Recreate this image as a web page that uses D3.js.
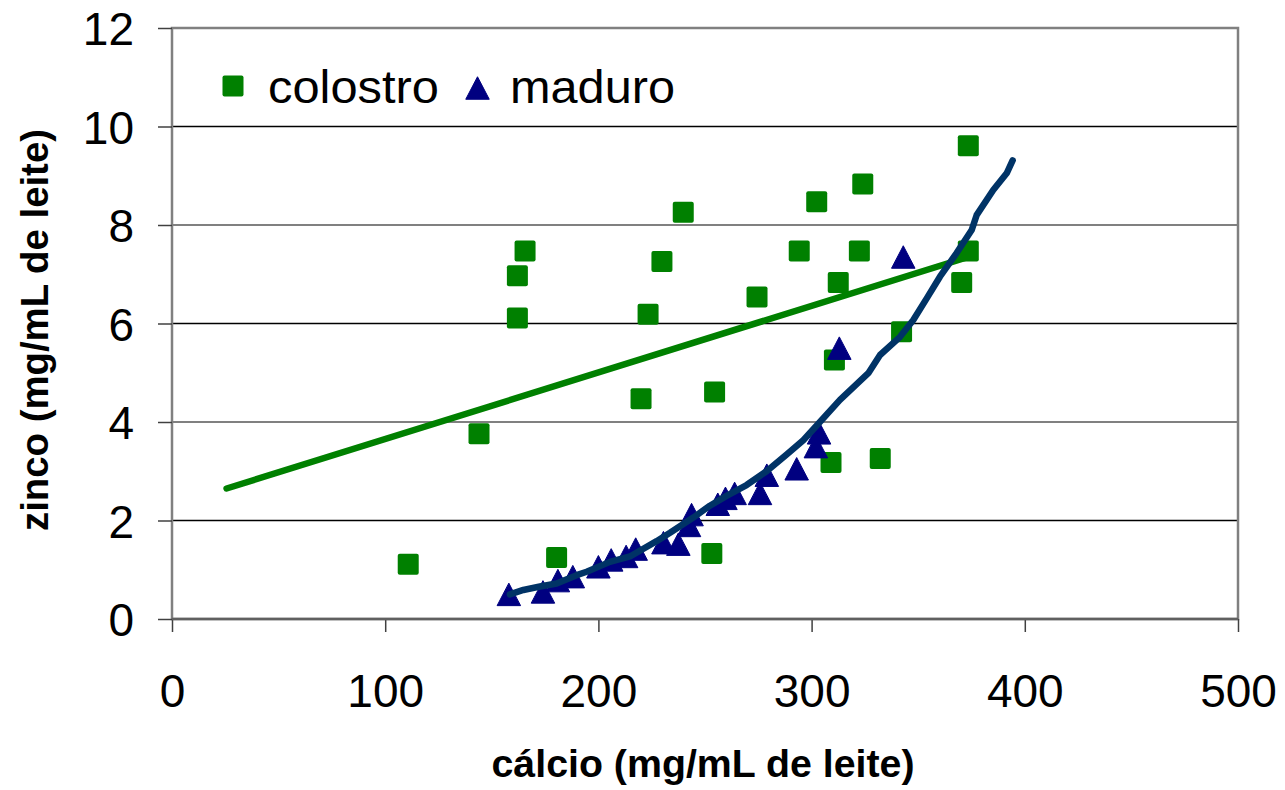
<!DOCTYPE html>
<html>
<head>
<meta charset="utf-8">
<script src="https://cdn.jsdelivr.net/npm/d3@7"></script>
<style>
  html, body { margin: 0; padding: 0; background: #fff; }
  svg { display: block; font-family: Arial, "Liberation Sans", sans-serif; }
</style>
</head>
<body>
<svg id="chart" width="1285" height="790"></svg>
<script>
// ---- data ----
const seriesNames = ["colostro", "maduro"];
const colostroX = [110.8, 144, 162, 162, 165.6, 180.4, 220, 223.3, 229.8, 239.8, 253.2, 254.5, 274.4, 294.2, 302.4, 309.1, 310.7, 312.5, 322.4, 324, 332.2, 342.2, 370.4, 373.5, 373.5];
const colostroY = [1.11, 3.76, 6.11, 6.97, 7.47, 1.25, 4.47, 6.19, 7.26, 8.26, 1.33, 4.61, 6.54, 7.47, 8.47, 3.18, 5.26, 6.83, 7.47, 8.83, 3.26, 5.83, 6.83, 7.47, 9.61];
const maduroX = [158, 174, 181, 188, 200, 206, 213, 217.5, 230.5, 237.5, 242.5, 243.7, 256, 259.6, 263.9, 275.8, 279, 293, 302, 303.5, 313, 343];
const maduroY = [0.50, 0.55, 0.78, 0.86, 1.06, 1.20, 1.27, 1.42, 1.55, 1.52, 1.90, 2.12, 2.33, 2.45, 2.55, 2.55, 2.92, 3.05, 3.50, 3.78, 5.50, 7.35];
// linear trend of colostro (end points)
const colostroTrendX = [25.6, 373.5];
const colostroTrendY = [2.65, 7.35];
// fitted curve of maduro
const maduroCurveX = [158.5, 164.8, 172.6, 180.4, 189.8, 194.5, 205.4, 214.8, 227.3, 233.6, 244.5, 252.3, 260.1, 269.5, 278.9, 288.3, 296.1, 302.4, 313.3, 326.6, 332.1, 341.5, 347.7, 354, 360.2, 368, 375.1, 377.4, 385.2, 391.5, 394.3];
const maduroCurveY = [0.50, 0.59, 0.66, 0.72, 0.89, 0.96, 1.16, 1.27, 1.58, 1.75, 2.06, 2.30, 2.50, 2.72, 3.00, 3.34, 3.63, 3.93, 4.45, 4.99, 5.36, 5.73, 6.07, 6.51, 6.95, 7.43, 7.90, 8.20, 8.71, 9.05, 9.31];
const xTicks = [0, 100, 200, 300, 400, 500];
const yTicks = [0, 2, 4, 6, 8, 10, 12];
const xTitle = "cálcio (mg/mL de leite)";
const yTitle = "zinco (mg/mL de leite)";

// ---- layout ----
const svg = d3.select("#chart");
const L = 172, R = 1238, T = 28, B = 619;
const x = d3.scaleLinear().domain([0, 500]).range([L, R]);
const y = d3.scaleLinear().domain([0, 12]).range([B, T]);
const green = "#008000", navy = "#000080", curveCol = "#003366";

// gridlines
const gridStyle = {10: ["#000", 1.4], 8: ["#808080", 2], 6: ["#000", 1.4], 4: ["#808080", 2], 2: ["#000", 1.4]};
svg.append("g").selectAll("line").data(yTicks.filter(d => d > 0 && d < 12)).join("line")
  .attr("x1", L).attr("x2", R).attr("y1", d => y(d)).attr("y2", d => y(d))
  .attr("stroke", d => gridStyle[d][0]).attr("stroke-width", d => gridStyle[d][1]);

// plot border
svg.append("rect").attr("x", L).attr("y", T).attr("width", R - L).attr("height", B - T)
  .attr("fill", "none").attr("stroke", "#808080").attr("stroke-width", 2.5);

// axes
const yAxis = d3.axisLeft(y).tickValues(yTicks).tickSize(14).tickPadding(24).tickFormat(d3.format("d"));
const gy = svg.append("g").attr("transform", `translate(${L},0)`).call(yAxis);
gy.select(".domain").remove();
gy.selectAll(".tick line").attr("stroke", "#404040").attr("stroke-width", 1.5);
gy.selectAll(".tick text").attr("font-size", 46).attr("fill", "#000").attr("dy", "0.36em")
  .style("font-family", "Arial, 'Liberation Sans', sans-serif");

const xAxis = d3.axisBottom(x).tickValues(xTicks).tickSize(13).tickPadding(42).tickFormat(d3.format("d"));
const gx = svg.append("g").attr("transform", `translate(0,${B})`).call(xAxis);
gx.select(".domain").remove();
gx.selectAll(".tick line").attr("stroke", "#404040").attr("stroke-width", 1.5);
gx.selectAll(".tick text").attr("font-size", 46).attr("fill", "#000")
  .style("font-family", "Arial, 'Liberation Sans', sans-serif");

// bottom axis line on top of border
svg.append("line").attr("x1", L).attr("x2", R).attr("y1", B).attr("y2", B)
  .attr("stroke", "#606060").attr("stroke-width", 2.5);

// axis titles
svg.append("text").attr("x", 703).attr("y", 777).attr("text-anchor", "middle")
  .attr("font-size", 39).attr("font-weight", "bold").attr("textLength", 423)
  .attr("lengthAdjust", "spacingAndGlyphs").text(xTitle);
svg.append("text").attr("transform", "translate(48,330) rotate(-90)").attr("text-anchor", "middle")
  .attr("font-size", 38).attr("font-weight", "bold").attr("textLength", 402)
  .attr("lengthAdjust", "spacingAndGlyphs").text(yTitle);

// markers
const sq = 21;
const triPath = (cx, cy) => {
  const w = 23.5, h = 22.5;
  return `M${cx},${cy - h / 2}L${cx + w / 2},${cy + h / 2}L${cx - w / 2},${cy + h / 2}Z`;
};
const colostro = colostroX.map((v, i) => [v, colostroY[i]]);
const maduro = maduroX.map((v, i) => [v, maduroY[i]]);

svg.append("g").selectAll("rect").data(colostro).join("rect")
  .attr("x", d => x(d[0]) - sq / 2).attr("y", d => y(d[1]) - sq / 2)
  .attr("width", sq).attr("height", sq).attr("rx", 2)
  .attr("fill", green);

svg.append("g").selectAll("path").data(maduro).join("path")
  .attr("d", d => triPath(x(d[0]), y(d[1])))
  .attr("fill", navy).attr("stroke", navy).attr("stroke-width", 1).attr("stroke-linejoin", "round");

// trend line
const line = d3.line().x(d => x(d[0])).y(d => y(d[1]));
svg.append("path").datum(colostroTrendX.map((v, i) => [v, colostroTrendY[i]]))
  .attr("d", line).attr("fill", "none").attr("stroke", green).attr("stroke-width", 6.5)
  .attr("stroke-linecap", "round");

// fitted curve
svg.append("path").datum(maduroCurveX.map((v, i) => [v, maduroCurveY[i]]))
  .attr("d", line).attr("fill", "none").attr("stroke", curveCol).attr("stroke-width", 6.5)
  .attr("stroke-linecap", "round").attr("stroke-linejoin", "round");

// legend
const lg = svg.append("g");
lg.append("rect").attr("x", 233 - sq / 2).attr("y", 86 - sq / 2).attr("width", sq).attr("height", sq)
  .attr("rx", 2).attr("fill", green);
lg.append("text").attr("x", 268).attr("y", 103).attr("font-size", 46).attr("textLength", 171)
  .attr("lengthAdjust", "spacingAndGlyphs").text(seriesNames[0]);
lg.append("path").attr("d", triPath(477.5, 88)).attr("fill", navy).attr("stroke", navy).attr("stroke-width", 1);
lg.append("text").attr("x", 510).attr("y", 103).attr("font-size", 46).attr("textLength", 165)
  .attr("lengthAdjust", "spacingAndGlyphs").text(seriesNames[1]);
</script>
</body>
</html>
